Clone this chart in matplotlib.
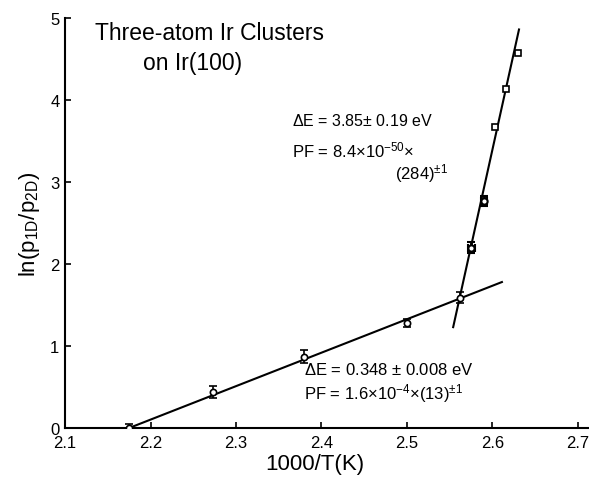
import matplotlib
matplotlib.use("Agg")
import matplotlib.pyplot as plt
import numpy as np

# data
x_low = [2.175, 2.273, 2.380, 2.500, 2.562]
y_low = [0.00, 0.44, 0.87, 1.28, 1.59]
yerr_low = [0.05, 0.07, 0.08, 0.05, 0.07]

x_cross = [2.575, 2.590]
y_cross = [2.20, 2.77]
yerr_cross = [0.07, 0.06]
xerr_cross = [0.004, 0.004]

x_sq = [2.603, 2.616, 2.630]
y_sq = [3.67, 4.13, 4.57]

# fit lines (endpoints)
fit_low_x = [2.175, 2.611]
fit_low_y = [0.00, 1.78]
fit_high_x = [2.554, 2.631]
fit_high_y = [1.23, 4.86]

xticks = [2.1, 2.2, 2.3, 2.4, 2.5, 2.6, 2.7]
yticks = [0, 1, 2, 3, 4, 5]

plt.rcParams['font.family'] = ['Liberation Sans', 'DejaVu Sans']
plt.rcParams['mathtext.fontset'] = 'custom'
plt.rcParams['mathtext.rm'] = 'Liberation Sans'
plt.rcParams['mathtext.it'] = 'Liberation Sans'
plt.rcParams['mathtext.bf'] = 'Liberation Sans'
fig = plt.figure(figsize=(5.89, 4.81), dpi=100)
ax = fig.add_axes([65/589, (481-429)/481, (589-65)/589, (429-19)/481])
ax.set_xlim(2.1, 2.1 + (589-65)/855)
ax.set_ylim(0, 5)

ax.plot(fit_low_x, fit_low_y, color='black', lw=1.5, zorder=2)
ax.plot(fit_high_x, fit_high_y, color='black', lw=1.5, zorder=2)

ax.errorbar(x_low, y_low, yerr=yerr_low, fmt='o', ms=4.5, mfc='white', mec='black',
            mew=1.2, ecolor='black', elinewidth=1.2, capsize=3, capthick=1.2, zorder=3)
ax.errorbar(x_cross, y_cross, yerr=yerr_cross, xerr=xerr_cross, fmt='o', ms=4.5, mfc='white',
            mec='black', mew=1.5, ecolor='black', elinewidth=2, capsize=3, capthick=1.2, zorder=3)
ax.plot(x_sq, y_sq, 's', ms=4.5, mfc='white', mec='black', mew=1.2, zorder=3)

ax.spines['top'].set_visible(False)
ax.spines['right'].set_visible(False)
ax.spines['left'].set_linewidth(1.5)
ax.spines['bottom'].set_linewidth(1.5)
ax.set_xticks(xticks)
ax.set_xticklabels([str(t) for t in xticks])
ax.set_yticks(yticks)
ax.tick_params(direction='in', length=4, width=1.2, labelsize=12)
ax.tick_params(axis='x', pad=5)
ax.tick_params(axis='y', pad=4)

ax.set_xlabel('1000/T(K)', fontsize=16, labelpad=3)
ax.xaxis.set_label_coords(0.477, -0.062)
ax.set_ylabel(r'ln(p$_{\mathregular{1D}}$/p$_{\mathregular{2D}}$)', fontsize=16, labelpad=6)

ax.text(2.135, 4.82, 'Three-atom Ir Clusters', fontsize=16.5, ha='left', va='center')
ax.text(2.191, 4.46, 'on Ir(100)', fontsize=16.5, ha='left', va='center')

ax.text(2.365, 3.75, r'$\Delta$E = 3.85± 0.19 eV', fontsize=11.5, ha='left', va='center')
ax.text(2.365, 3.40, r'PF = 8.4×10$^{-50}$×', fontsize=12, ha='left', va='center')
ax.text(2.486, 3.11, r'(284)$^{\pm1}$', fontsize=12, ha='left', va='center')

ax.text(2.379, 0.72, r'$\Delta$E = 0.348 ± 0.008 eV', fontsize=12, ha='left', va='center')
ax.text(2.379, 0.43, r'PF = 1.6×10$^{-4}$×(13)$^{\pm1}$', fontsize=12, ha='left', va='center')

fig.savefig('out.png', dpi=100)
